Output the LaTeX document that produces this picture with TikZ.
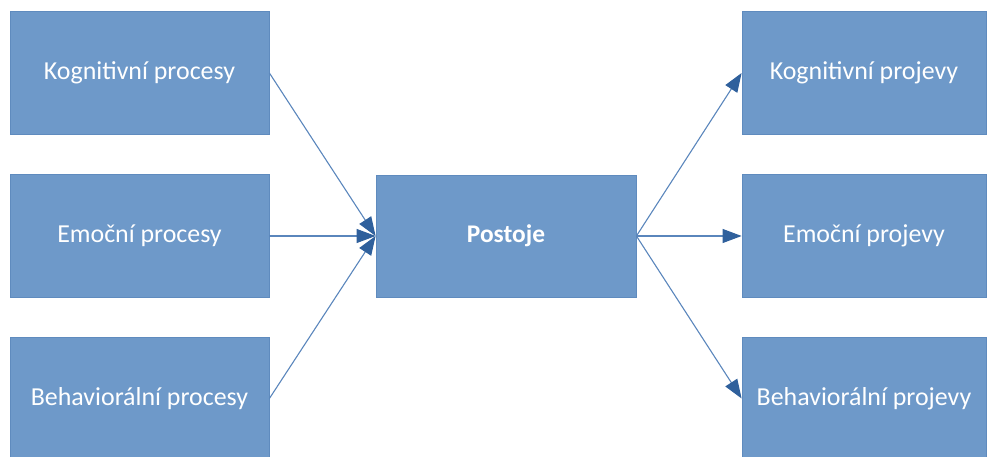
\documentclass[tikz,border=0pt]{standalone}
\usepackage{fontspec}
\setmainfont{Carlito}
\usetikzlibrary{arrows.meta}
\definecolor{boxfill}{HTML}{6E99C9}
\definecolor{boxline}{HTML}{5F8BBE}
\definecolor{conn}{HTML}{5A86BC}
\definecolor{tipc}{HTML}{2F609C}
\begin{document}
\begin{tikzpicture}[x=1bp,y=-1bp,
  box/.style={rectangle, draw=boxline, line width=0.8bp, fill=boxfill, text=white, inner sep=0pt,
    minimum height=123bp, font=\fontsize{26}{31}\selectfont},
  lbox/.style={box, minimum width=259bp},
  rbox/.style={box, minimum width=244bp},
  cbox/.style={box, minimum width=260bp, minimum height=122bp, font=\fontsize{25.5}{30}\selectfont\bfseries},
  conn/.style={draw=conn, line width=1.1bp, -{Triangle[length=19bp,width=14bp,fill=tipc,color=tipc]}}]
\useasboundingbox (0,0) rectangle (988,457);
\begin{scope}
\clip (0,0) rectangle (988,457);
\node[lbox] (kp) at (139.5,73) {Kognitivní procesy};
\node[lbox] (ep) at (139.5,236) {Emoční procesy};
\node[lbox] (bp) at (139.5,398.5) {Behaviorální procesy};
\node[cbox] (po) at (506,236) {Postoje};
\node[rbox] (kj) at (864,73) {Kognitivní projevy};
\node[rbox] (ej) at (864,236) {Emoční projevy};
\node[rbox] (bj) at (864,398.5) {Behaviorální projevy};
\draw[conn] (kp.east) -- (po.west);
\draw[conn] (ep.east) -- (po.west);
\draw[conn] (bp.east) -- (po.west);
\draw[conn] (po.east) -- (kj.west);
\draw[conn] (po.east) -- (ej.west);
\draw[conn] (po.east) -- (bj.west);
\end{scope}
\end{tikzpicture}
\end{document}
